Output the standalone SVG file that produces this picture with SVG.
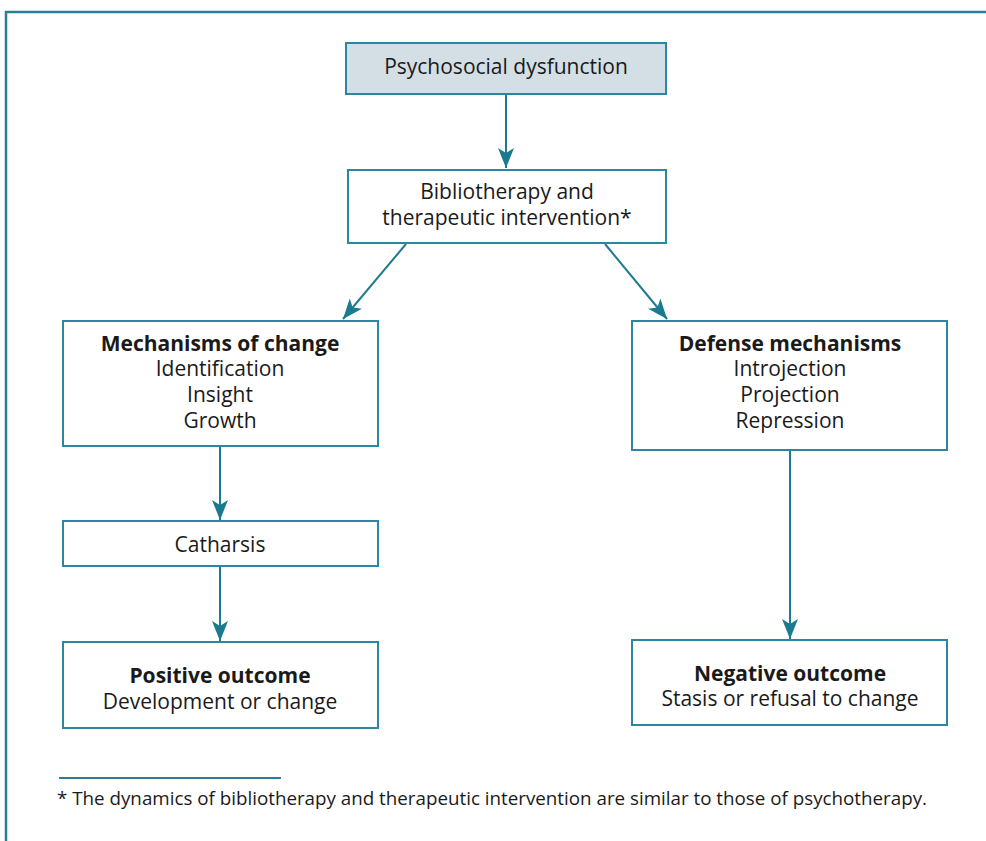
<svg xmlns="http://www.w3.org/2000/svg" width="986" height="841" viewBox="0 0 986 841">
<defs>
<style>
.box{fill:#fff;stroke:#2b87a0;stroke-width:2}
.hdr{fill:#d3dfe5}
.t{font-family:"Open Sans","Noto Sans",sans-serif;font-size:21px;fill:#1a1a1a;text-anchor:middle}
.b{font-weight:bold}
.c{stroke:#1e7a8e;stroke-width:2;fill:none}
</style>
<marker id="arw" markerWidth="20" markerHeight="16" viewBox="0 0 20 16" refX="20" refY="8" orient="auto" markerUnits="userSpaceOnUse">
<path d="M0,0 L20,8 L0,16 L5,8 Z" fill="#1a7a8e"/>
</marker>
</defs>
<rect x="0" y="0" width="986" height="841" fill="#fff"/>
<path d="M6,845 V12 H990" fill="none" stroke="#2b7f95" stroke-width="2.5"/>
<g id="connectors">
<line class="c" x1="506" y1="94" x2="506" y2="168" marker-end="url(#arw)"/>
<line class="c" x1="406" y1="244" x2="343" y2="319" marker-end="url(#arw)"/>
<line class="c" x1="605" y1="244" x2="667" y2="319" marker-end="url(#arw)"/>
<line class="c" x1="220" y1="446" x2="220" y2="520" marker-end="url(#arw)"/>
<line class="c" x1="220" y1="566" x2="220" y2="641" marker-end="url(#arw)"/>
<line class="c" x1="790" y1="450" x2="790" y2="639" marker-end="url(#arw)"/>
</g>
<g id="n1">
<rect class="box hdr" x="346" y="43" width="320" height="51"/>
<text class="t" x="506" y="74">Psychosocial dysfunction</text>
</g>
<g id="n2">
<rect class="box" x="348" y="170" width="318" height="73"/>
<text class="t" x="507" y="199">Bibliotherapy and</text>
<text class="t" x="507" y="225">therapeutic intervention*</text>
</g>
<g id="n3">
<rect class="box" x="63" y="321" width="315" height="125"/>
<text class="t b" x="220" y="351">Mechanisms of change</text>
<text class="t" x="220" y="376">Identification</text>
<text class="t" x="220" y="402">Insight</text>
<text class="t" x="220" y="428">Growth</text>
</g>
<g id="n4">
<rect class="box" x="632" y="321" width="315" height="129"/>
<text class="t b" x="790" y="351">Defense mechanisms</text>
<text class="t" x="790" y="376">Introjection</text>
<text class="t" x="790" y="402">Projection</text>
<text class="t" x="790" y="428">Repression</text>
</g>
<g id="n5">
<rect class="box" x="63" y="521" width="315" height="45"/>
<text class="t" x="220" y="552">Catharsis</text>
</g>
<g id="n6">
<rect class="box" x="63" y="642" width="315" height="86"/>
<text class="t b" x="220" y="683">Positive outcome</text>
<text class="t" x="220" y="709">Development or change</text>
</g>
<g id="n7">
<rect class="box" x="632" y="640" width="315" height="85"/>
<text class="t b" x="790" y="681">Negative outcome</text>
<text class="t" x="790" y="706">Stasis or refusal to change</text>
</g>
<g id="footnote">
<line x1="59" y1="778" x2="281" y2="778" stroke="#2b7f95" stroke-width="2"/>
<text x="57" y="805" font-family="'Open Sans','Noto Sans',sans-serif" font-size="18.5px" fill="#1a1a1a" textLength="870" lengthAdjust="spacingAndGlyphs">* The dynamics of bibliotherapy and therapeutic intervention are similar to those of psychotherapy.</text>
</g>
</svg>
